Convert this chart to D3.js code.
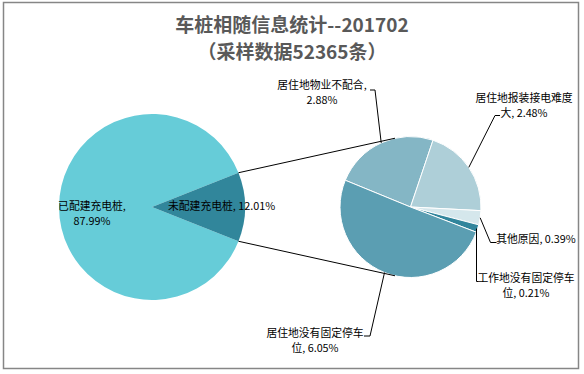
<!DOCTYPE html>
<html>
<head>
<meta charset="utf-8">
<script src="https://cdn.jsdelivr.net/npm/d3@7"></script>
<style>
  body { margin: 0; background: #fff; }
  text { font-family: "Noto Sans CJK SC", "Noto Sans", sans-serif; }
</style>
</head>
<body>
<svg id="chart" width="584" height="374"></svg>
<script>
// data
const mainNames = ["已配建充电桩", "未配建充电桩"];
const mainValues = [87.99, 12.01];
const subNames = ["居住地物业不配合", "居住地报装接电难度大", "其他原因", "工作地没有固定停车位", "居住地没有固定停车位"];
const subValues = [2.88, 2.48, 0.39, 0.21, 6.05];
const titleLines = ["车桩相随信息统计--201702", "（采样数据52365条）"];

const width = 584, height = 374;
const deg = Math.PI / 180;

const svg = d3.select("#chart");

// frame
svg.append("rect")
    .attr("x", 3.5).attr("y", 2.5)
    .attr("width", 575).attr("height", 366)
    .attr("fill", "#fff")
    .attr("stroke", "#868686")
    .attr("stroke-width", 1.5);

// title
svg.append("g")
    .selectAll("text")
    .data(titleLines)
    .enter()
    .append("text")
    .attr("x", 292)
    .attr("y", (d, i) => 32 + i * 27)
    .attr("text-anchor", "middle")
    .attr("font-size", 19)
    .attr("font-weight", "bold")
    .attr("fill", "#595959")
    .text(d => d);

// main pie, small slice centred on the right
const main = { cx: 152, cy: 207, r: 93 };
const smallSpan = mainValues[1] / d3.sum(mainValues) * 360;
const mainStart = (90 + smallSpan / 2) * deg;
const mainPie = d3.pie().sort(null)
    .startAngle(mainStart).endAngle(mainStart + 2 * Math.PI);
const mainArcs = mainPie(mainValues);
const mainColors = ["#66CCD8", "#31869B"];
const mainArc = d3.arc().innerRadius(0).outerRadius(main.r);

svg.append("g")
    .attr("transform", `translate(${main.cx},${main.cy})`)
    .selectAll("path")
    .data(mainArcs)
    .enter()
    .append("path")
    .attr("d", mainArc)
    .attr("fill", (d, i) => mainColors[i]);

// second pie
const sub = { cx: 410.5, cy: 207, r: 70.5 };
const subStart = -67.7 * deg;
const subPie = d3.pie().sort(null)
    .startAngle(subStart).endAngle(subStart + 2 * Math.PI);
const subArcs = subPie(subValues);
const subColors = ["#84B6C5", "#AECFD8", "#D5E7EC", "#31859C", "#5B9EB2"];
const subArc = d3.arc().innerRadius(0).outerRadius(sub.r);

svg.append("g")
    .attr("transform", `translate(${sub.cx},${sub.cy})`)
    .selectAll("path")
    .data(subArcs)
    .enter()
    .append("path")
    .attr("d", subArc)
    .attr("fill", (d, i) => subColors[i])
    .attr("stroke", "#fff")
    .attr("stroke-width", 1);

// point on a circle at d3 angle a
const onCircle = (c, a, r = c.r) => [c.cx + r * Math.sin(a), c.cy - r * Math.cos(a)];

// connector lines between the pies
const small = mainArcs[1];
const joinAngle = 12.7 * deg;
const connectors = [
    [onCircle(main, small.startAngle), onCircle(sub, -joinAngle)],
    [onCircle(main, small.endAngle), onCircle(sub, Math.PI + joinAngle)]
];
svg.append("g")
    .selectAll("line")
    .data(connectors)
    .enter()
    .append("line")
    .attr("x1", d => d[0][0]).attr("y1", d => d[0][1])
    .attr("x2", d => d[1][0]).attr("y2", d => d[1][1])
    .attr("stroke", "#000")
    .attr("stroke-width", 1);

const fontSize = 10.8;

// labels on the main pie
const mainLabelLines = [
    [mainNames[0] + ",", mainValues[0].toFixed(2) + "%"],
    [mainNames[1] + ", " + mainValues[1].toFixed(2) + "%"]
];
const mainLabelPos = [
    { x: 92, y: 210, anchor: "middle" },
    { x: 168, y: 210, anchor: "start" }
];
mainLabelLines.forEach((lines, i) => {
    const p = mainLabelPos[i];
    const t = svg.append("text")
        .attr("font-size", fontSize)
        .attr("fill", "#000")
        .attr("text-anchor", p.anchor);
    lines.forEach((l, j) => t.append("tspan")
        .attr("x", p.x).attr("y", p.y + j * 15).text(l));
});

// labels on the second pie, with leader lines
const subLabelLines = [
    ["居住地物业不配合,", "2.88%"],
    ["居住地报装接电难度", "大, 2.48%"],
    ["其他原因, 0.39%"],
    ["工作地没有固定停车", "位, 0.21%"],
    ["居住地没有固定停车", "位, 6.05%"]
];
const subLabelPos = [
    { x: 322, y: 89, lh: 15 },
    { x: 524, y: 102, lh: 15 },
    { x: 536, y: 243, lh: 14 },
    { x: 526, y: 282, lh: 15 },
    { x: 315, y: 337, lh: 15 }
];
// leader line corners: [elbow, end at label]
const leaderPts = [
    [[375, 90], [370, 90]],
    [[495, 115.5], [500, 115.5]],
    [[490.5, 242.5], [496.5, 242.5]],
    [[476.5, 281.5], [478.5, 281.5]],
    [[370, 336], [364, 336]]
];

subLabelLines.forEach((lines, i) => {
    const p = subLabelPos[i];
    const t = svg.append("text")
        .attr("font-size", fontSize)
        .attr("fill", "#000")
        .attr("text-anchor", "middle");
    lines.forEach((l, j) => t.append("tspan")
        .attr("x", p.x).attr("y", p.y + j * p.lh).text(l));

    const a = (subArcs[i].startAngle + subArcs[i].endAngle) / 2;
    const start = i === 3 ? [leaderPts[i][0][0], onCircle(sub, a)[1]] : onCircle(sub, a);
    svg.append("path")
        .attr("d", d3.line()([start, ...leaderPts[i]]))
        .attr("fill", "none")
        .attr("stroke", "#000")
        .attr("stroke-width", 1);
});
</script>
</body>
</html>
